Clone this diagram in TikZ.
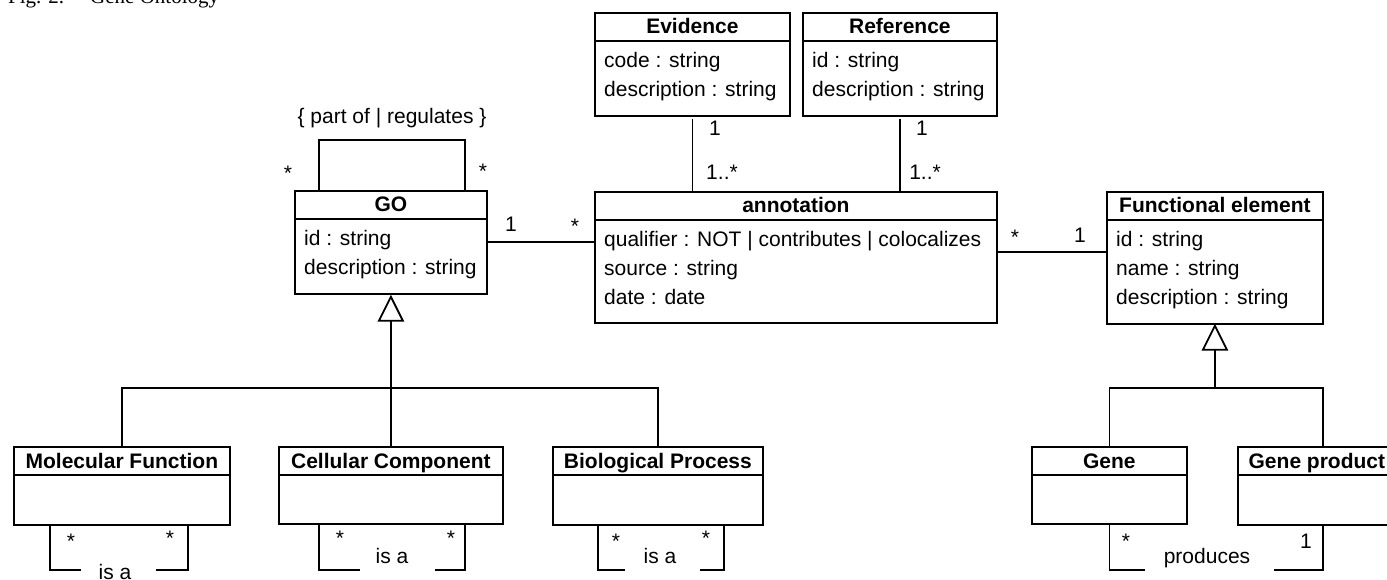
\documentclass[tikz,border=0pt]{standalone}
\usepackage{fontspec}
\setmainfont{Liberation Sans}
\newfontfamily\capfont{Liberation Serif}
\usetikzlibrary{calc}

\tikzset{
 x=1pt, y=-1pt,
 line/.style={line width=1.8pt},
 classbox/.style={draw, line width=1.8pt, rectangle, inner sep=0pt, anchor=north west},
 ctitle/.style={font=\fontsize{21}{25}\selectfont\bfseries, anchor=base, inner sep=0pt},
 cattr/.style={font=\fontsize{21}{25}\selectfont, anchor=base west, inner sep=0pt},
 mult/.style={font=\fontsize{21}{25}\selectfont, anchor=base, inner sep=0pt},
 captxt/.style={font=\capfont\fontsize{21}{25}\selectfont, anchor=base west, inner sep=0pt},
}

\newcommand\umlclass[6]{%
 \node[classbox, minimum width=#4pt, minimum height=#5pt] (#1) at (#2,#3) {};
 \draw[line] ($(#1.north west)+(0,29)$) -- ($(#1.north east)+(0,29)$);
 \node[ctitle] (#1-title) at ($(#1.north)+(0,22)$) {#6};
}
\newcommand\classattr[3]{%
 \node[cattr] (#1-a#2) at ($(#1.north west)+(10,56+28.5*#2)$) {#3};
}

\begin{document}
\begin{tikzpicture}
\useasboundingbox (0,0) rectangle (1387,580);
\clip (0,0) rectangle (1387,580);

% caption
\node[captxt] (cap1) at (8,4) {Fig. 2.};
\node[captxt] (cap2) at (90,4) {Gene Ontology};

% classes
\umlclass{GO}{294}{190}{192}{103}{GO}
\classattr{GO}{0}{id : string}
\classattr{GO}{1}{description : string}

\umlclass{ev}{594}{12}{195}{103}{Evidence}
\classattr{ev}{0}{code : string}
\classattr{ev}{1}{description : string}

\umlclass{ref}{802}{12}{194}{103}{Reference}
\classattr{ref}{0}{id : string}
\classattr{ref}{1}{description : string}

\umlclass{ann}{594}{191}{402}{131}{annotation}
\classattr{ann}{0}{qualifier : NOT | contributes | colocalizes}
\classattr{ann}{1}{source : string}
\classattr{ann}{2}{date : date}

\umlclass{fe}{1106}{191}{216}{132}{Functional element}
\classattr{fe}{0}{id : string}
\classattr{fe}{1}{name : string}
\classattr{fe}{2}{description : string}

\umlclass{mf}{13}{446}{216}{78}{Molecular Function}
\umlclass{cc}{278}{446}{224}{77}{Cellular Component}
\umlclass{bp}{552}{446}{210}{78}{Biological Process}
\umlclass{gene}{1031}{446}{155}{77}{Gene}
\umlclass{gp}{1237}{446}{158}{78}{Gene product}

% GO self association
\draw[line] ([xshift=25pt]GO.north west) -- ++(0,-50) -| ([xshift=-23pt]GO.north east);
\node[mult] (golbl) at (392,124) {\{ part of | regulates \}};
\node[mult] (gom1) at (288,181) {*};
\node[mult] (gom2) at (483,179) {*};

% GO - annotation
\draw[line] (GO.east) -- (GO.east -| ann.west);
\node[mult] (gam1) at (511,232) {1};
\node[mult] (gam2) at (575,234) {*};

% annotation - functional element
\coordinate (afe) at ([yshift=5.5pt]ann.east);
\draw[line] (afe) -- (afe -| fe.west);
\node[mult] (afm1) at (1015,245) {*};
\node[mult] (afm2) at (1080,243) {1};

% evidence / reference - annotation
\draw[line] ([yshift=-2pt]ev.south) -- (ev.south |- ann.north);
\node[mult] (evm1) at (715,136) {1};
\node[mult] (evm2) at (722,180) {1..*};
\draw[line] ([yshift=-2pt]ref.south) -- (ref.south |- ann.north);
\node[mult] (rfm1) at (922,136) {1};
\node[mult] (rfm2) at (925,180) {1..*};

% GO generalization
\coordinate (goapex) at ([yshift=-2pt]GO.south);
\draw[line, line join=miter] (goapex) -- ++(-12,24) -- ++(24,0) -- cycle;
\path (goapex) ++(0,24) coordinate (gobase);
\path (GO.south) ++(0,93) coordinate (gojoin);
\draw[line] (gobase) -- (gojoin);
\draw[line] (mf.north) |- (gojoin) -| (bp.north);
\draw[line] (cc.north) -- (gojoin);

% FE generalization
\coordinate (feapex) at ([yshift=-1pt]fe.south);
\draw[line, line join=miter] (feapex) -- ++(-12,24) -- ++(24,0) -- cycle;
\path (feapex) ++(0,24) coordinate (febase);
\path (fe.south) ++(0,63) coordinate (fejoin);
\coordinate (gpn) at ([xshift=6pt]gp.north);
\draw[line] (febase) -- (fejoin);
\draw[line] (gene.north) |- (fejoin) -| (gpn);

% Molecular Function "is a"
\path (mf.south west) ++(37,0) coordinate (mfl) ++(0,44) coordinate (mflb);
\path (mf.south east) ++(-43,0) coordinate (mfr) ++(0,44) coordinate (mfrb);
\draw[line] (mfl) -- (mflb) -- ++(31,0);
\draw[line] (mfr) -- (mfrb) -- ++(-32,0);
\node[mult] (mfisa) at (115,579) {is a};
\node[mult] (mfm1) at (71,548) {*};
\node[mult] (mfm2) at (170,545) {*};

% Cellular Component "is a"
\path (cc.south west) ++(41,0) coordinate (ccl) ++(0,45) coordinate (cclb);
\path (cc.south east) ++(-39,0) coordinate (ccr) ++(0,45) coordinate (ccrb);
\draw[line] (ccl) -- (cclb) -- ++(41,0);
\draw[line] (ccr) -- (ccrb) -- ++(-30,0);
\node[mult] (ccisa) at (392,563) {is a};
\node[mult] (ccm1) at (340,545) {*};
\node[mult] (ccm2) at (451,545) {*};

% Biological Process "is a"
\path (bp.south west) ++(46,0) coordinate (bpl) ++(0,44) coordinate (bplb);
\path (bp.south east) ++(-40,0) coordinate (bpr) ++(0,44) coordinate (bprb);
\draw[line] (bpl) -- (bplb) -- ++(27,0);
\draw[line] (bpr) -- (bprb) -- ++(-24,0);
\node[mult] (bpisa) at (660,563) {is a};
\node[mult] (bpm1) at (616,548) {*};
\node[mult] (bpm2) at (706,545) {*};

% Gene - Gene product "produces"
\path (gene.south) ++(0,45) coordinate (genelb);
\path (gp.south) ++(6,0) coordinate (gps) ++(0,44) coordinate (gprb);
\draw[line] (gene.south) -- (genelb) -- ++(36,0);
\draw[line] (gps) -- (gprb) -- ++(-49,0);
\node[mult] (prod) at (1207,563) {produces};
\node[mult] (pm1) at (1126,548) {*};
\node[mult] (pm2) at (1306,548) {1};
\end{tikzpicture}
\end{document}
